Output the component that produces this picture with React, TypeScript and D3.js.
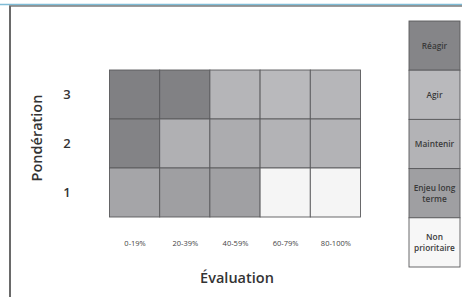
import React from "react";
import * as d3 from "d3";

const evaluations = ["0-19%", "20-39%", "40-59%", "60-79%", "80-100%"];
const ponderations = ["3", "2", "1"];
// cell colours by row (ponderation 3, 2, 1) and column
const row3 = ["#808083", "#818184", "#b5b5b8", "#b9b9bc", "#b6b6b9"];
const row2 = ["#838386", "#b0b0b3", "#acacaf", "#b3b3b6", "#b3b3b6"];
const row1 = ["#a5a5a8", "#9f9fa2", "#a0a0a3", "#f5f5f5", "#f5f5f5"];
const cellRows = [row3, row2, row1];
const legendLabels = [["Réagir"], ["Agir"], ["Maintenir"], ["Enjeu long", "terme"], ["Non", "prioritaire"]];
const legendColors = ["#858588", "#b9b9bc", "#b3b3b6", "#9f9fa2", "#f7f7f7"];

const W = 462, H = 297;
const font = "Open Sans, Lato, sans-serif";

export default function App() {
  const x = d3.scaleBand<string>().domain(evaluations).range([109.5, 360.5]);
  const y = d3.scaleBand<string>().domain(ponderations).range([70, 217]);
  const ly = d3.scaleBand<number>().domain(d3.range(legendLabels.length)).range([21, 267]);
  return (
    <svg width={W} height={H} style={{ position: "absolute", left: 0, top: 0, background: "#fff" }}>
      <line x1={0} x2={W} y1={4.5} y2={4.5} stroke="#7fbcd6" strokeWidth={1.5} />
      <line x1={9} x2={W} y1={6} y2={6} stroke="#3a3a3a" strokeWidth={1.2} />
      <line x1={10} x2={10} y1={6} y2={H} stroke="#6a6a6a" strokeWidth={2} />
      {cellRows.map((row, ri) =>
        row.map((c, ci) => (
          <rect key={`${ri}-${ci}`} x={x(evaluations[ci])} y={y(ponderations[ri])}
            width={x.bandwidth()} height={y.bandwidth()} fill={c} stroke="#5a5a5c" strokeWidth={0.9} />
        ))
      )}
      {ponderations.map((p) => (
        <text key={p} x={67} y={(y(p) as number) + y.bandwidth() / 2} dy="0.35em" textAnchor="middle"
          fontFamily={font} fontSize={13} fontWeight={600} fill="#333">{p}</text>
      ))}
      <text transform="translate(37,138) rotate(-90)" textAnchor="middle" dy="0.35em"
        fontFamily={font} fontSize={14.5} fontWeight={600} fill="#333">Pondération</text>
      {evaluations.map((e) => (
        <text key={e} x={(x(e) as number) + x.bandwidth() / 2 + 0.5} y={243} dy="0.35em" textAnchor="middle"
          fontFamily={font} fontSize={7.5} fill="#444">{e}</text>
      ))}
      <text x={237} y={278} dy="0.35em" textAnchor="middle" fontFamily={font} fontSize={14.5} fontWeight={600} fill="#333">Évaluation</text>
      {legendLabels.map((lines, i) => {
        const top = ly(i) as number;
        const cy = top + ly.bandwidth() / 2;
        return (
          <g key={i}>
            <rect x={409} y={top} width={51} height={ly.bandwidth()} fill={legendColors[i]} stroke="#5a5a5c" strokeWidth={0.9} />
            {lines.map((l, j) => (
              <text key={j} x={434.5} y={cy + (j - (lines.length - 1) / 2) * 11} dy="0.35em" textAnchor="middle"
                fontFamily={font} fontSize={8.3} fontWeight={600} fill="#3a3a3a">{l}</text>
            ))}
          </g>
        );
      })}
    </svg>
  );
}
